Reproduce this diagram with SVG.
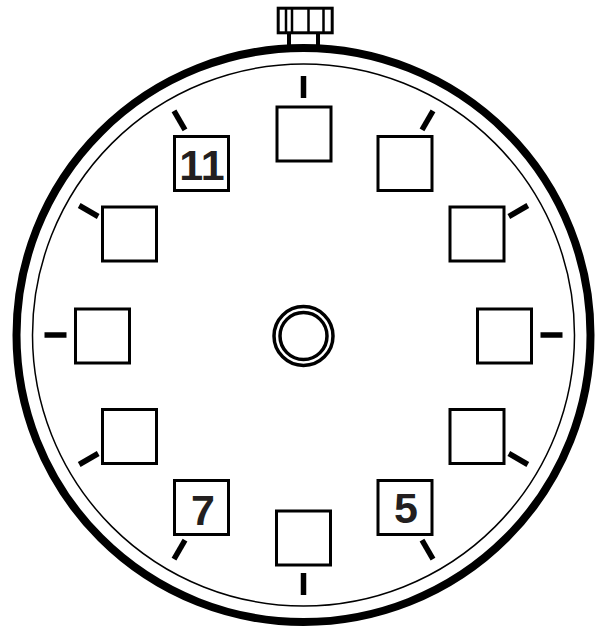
<svg xmlns="http://www.w3.org/2000/svg" width="600" height="628" viewBox="0 0 600 628">
<style>
.box{fill:#fff;stroke:#000;stroke-width:3}
.tick{stroke:#000;stroke-width:5.5;stroke-linecap:butt}
.num{font-family:"Liberation Sans",Arial,sans-serif;font-weight:bold;font-size:43px;fill:#231f20;text-anchor:middle}
</style>
<rect width="600" height="628" fill="#fff"/>
<g id="crown">
<rect x="287" y="32" width="4" height="13" fill="#000"/>
<rect x="316" y="32" width="4" height="13" fill="#000"/>
<rect x="278.2" y="8.2" width="54" height="24.6" fill="#fff" stroke="#000" stroke-width="3"/>
<g stroke="#000" stroke-width="2.5">
<line x1="286" y1="8" x2="286" y2="33"/>
<line x1="292" y1="8" x2="292" y2="33"/>
<line x1="308.5" y1="8" x2="308.5" y2="33"/>
<line x1="323.5" y1="8" x2="323.5" y2="33"/>
</g>
</g>
<g id="case">
<circle cx="303.5" cy="335" r="287" fill="#fff" stroke="#000" stroke-width="8"/>
<circle cx="303.5" cy="335" r="271" fill="none" stroke="#000" stroke-width="1.5"/>
</g>
<g id="ticks">
<line class="tick" x1="303.5" y1="76" x2="303.5" y2="98"/>
<line class="tick" x1="422" y1="129.8" x2="433" y2="110.8"/>
<line class="tick" x1="508.8" y1="216.5" x2="527.8" y2="205.5"/>
<line class="tick" x1="540.5" y1="335" x2="562.5" y2="335"/>
<line class="tick" x1="508.8" y1="453.5" x2="527.8" y2="464.5"/>
<line class="tick" x1="422" y1="540.2" x2="433" y2="559.2"/>
<line class="tick" x1="303.5" y1="573" x2="303.5" y2="595"/>
<line class="tick" x1="185" y1="540.2" x2="174" y2="559.2"/>
<line class="tick" x1="98.2" y1="453.5" x2="79.2" y2="464.5"/>
<line class="tick" x1="66.5" y1="335" x2="44.5" y2="335"/>
<line class="tick" x1="98.2" y1="216.5" x2="79.2" y2="205.5"/>
<line class="tick" x1="185" y1="129.8" x2="174" y2="110.8"/>
</g>
<g id="h12"><rect class="box" x="277" y="107" width="54" height="54"/></g>
<g id="h1"><rect class="box" x="378" y="136.5" width="54" height="54"/></g>
<g id="h2"><rect class="box" x="450" y="207" width="54" height="54"/></g>
<g id="h3"><rect class="box" x="477.5" y="309" width="54" height="54"/></g>
<g id="h4"><rect class="box" x="450" y="409.5" width="54" height="54"/></g>
<g id="h5"><rect class="box" x="378" y="480.5" width="54" height="54"/><text class="num" x="406" y="523">5</text></g>
<g id="h6"><rect class="box" x="276.5" y="511" width="54" height="54"/></g>
<g id="h7"><rect class="box" x="174.5" y="480.5" width="54" height="54"/><text class="num" x="203" y="524.5">7</text></g>
<g id="h8"><rect class="box" x="102.5" y="409.5" width="54" height="54"/></g>
<g id="h9"><rect class="box" x="75.5" y="309" width="54" height="54"/></g>
<g id="h10"><rect class="box" x="102.5" y="207" width="54" height="54"/></g>
<g id="h11"><rect class="box" x="174.5" y="136.5" width="54" height="54"/><text class="num" x="202" y="180">11</text></g>
<g id="hub">
<circle cx="303.5" cy="336" r="29.5" fill="#fff" stroke="#000" stroke-width="3.5"/>
<circle cx="303.5" cy="336" r="23.5" fill="none" stroke="#000" stroke-width="3.5"/>
</g>
</svg>
